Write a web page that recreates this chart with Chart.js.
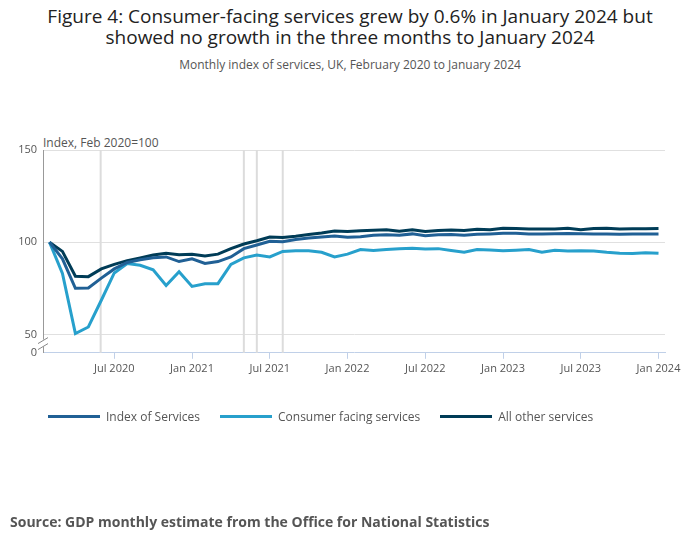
<!DOCTYPE html>
<html>
<head>
<meta charset="utf-8">
<script src="https://cdn.jsdelivr.net/npm/chart.js@4.4.1/dist/chart.umd.min.js"></script>
<style>
  body { margin: 0; width: 700px; height: 549px; position: relative; font-family: "Open Sans", sans-serif; background: #fff; overflow: hidden; }
  #title { position: absolute; top: 6px; left: 0; width: 700px; text-align: center; font-size: 19px; line-height: 21px; color: #222; }
  #subtitle { position: absolute; top: 56px; left: 0; width: 700px; text-align: center; font-size: 12px; color: #555; }
  #ytitle { position: absolute; top: 134px; left: 43px; font-size: 12px; color: #555; }
  #legend { position: absolute; top: 408px; left: 48px; font-size: 12px; color: #555; display: flex; }
  #legend span.item { display: flex; align-items: center; margin-right: 20px; }
  #legend span.sw { display: inline-block; width: 52px; height: 3px; margin-right: 6px; }
  #source { position: absolute; top: 512px; left: 10px; font-size: 14px; font-weight: bold; color: #555; }
  canvas { position: absolute; left: 0; top: 0; }
</style>
</head>
<body>
<div id="title">Figure 4: Consumer-facing services grew by 0.6% in January 2024 but<br>showed no growth in the three months to January 2024</div>
<div id="subtitle">Monthly index of services, UK, February 2020 to January 2024</div>
<div id="ytitle">Index, Feb 2020=100</div>
<canvas id="chart" width="700" height="549"></canvas>
<div id="legend"></div>
<div id="source">Source: GDP monthly estimate from the Office for National Statistics</div>
<script>
// months from Feb 2020 (index 0) to Jan 2024 (index 47)
const monthNames = ['Jan','Feb','Mar','Apr','May','Jun','Jul','Aug','Sep','Oct','Nov','Dec'];
const tickMonths = [5, 11, 17, 23, 29, 35, 41, 47];
const markerMonths = [3.95, 15, 16, 18];

const indexOfServices = [100, 91, 75, 75.2, 80.5, 85.5, 89, 90.5, 91.5, 92, 89.5,
  91, 88.5, 89.5, 92, 96.5, 98.5, 100.5, 100.3, 101.5, 102.3, 102.8, 103.3,
  102.7, 103, 103.8, 104, 103.8, 104.5, 103.5, 104, 104.2, 103.8, 104.3, 104.5,
  104.8, 104.8, 104.5, 104.5, 104.6, 104.7, 104.6, 104.5, 104.5, 104.3, 104.4, 104.4,
  104.5];
const consumerFacing = [100, 83, 50.4, 54, 68.5, 83.3, 88.4, 87.5, 85, 76.5, 84,
  76, 77.5, 77.5, 88, 91.5, 93, 92, 95, 95.3, 95.3, 94.5, 92,
  93.5, 96, 95.5, 96, 96.5, 96.7, 96.3, 96.5, 95.5, 94.6, 96, 95.8,
  95.3, 95.6, 96, 94.5, 95.6, 95.2, 95.4, 95.2, 94.5, 94, 93.8, 94.3,
  93.7, 94];
const allOther = [100, 95, 81.5, 81.3, 85.5, 88, 90, 91.5, 93, 94, 93.2,
  93.5, 92.5, 93.5, 96.5, 99, 100.8, 102.8, 102.5, 103.2, 104.2, 105, 106,
  105.8, 106.2, 106.5, 106.8, 106, 106.8, 105.8, 106.3, 106.6, 106.3, 107, 106.7,
  107.6, 107.4, 107.2, 107.2, 107.2, 107.5, 106.8, 107.4, 107.5, 107.2, 107.3, 107.3,
  107.4];
consumerFacing.splice(47); consumerFacing.push(94);

const seriesNames = ['Index of Services', 'Consumer facing services', 'All other services'];
const seriesColors = ['#206095', '#27a0cc', '#003c57'];
const seriesData = [indexOfServices, consumerFacing, allOther];

function monthLabel(i) {
  const m = (1 + i) % 12;
  const y = 2020 + Math.floor((1 + i) / 12);
  return monthNames[m] + ' ' + y;
}

const markers = {
  id: 'markers',
  beforeDatasetsDraw(chart) {
    const { ctx, chartArea, scales } = chart;
    ctx.save();
    ctx.strokeStyle = '#dcdcdc';
    ctx.lineWidth = 2;
    markerMonths.forEach(m => {
      const x = scales.x.getPixelForValue(m);
      ctx.beginPath();
      ctx.moveTo(x, chartArea.top);
      ctx.lineTo(x, chartArea.bottom);
      ctx.stroke();
    });
    // axis break marks
    const x0 = chartArea.left;
    const yb = scales.y.getPixelForValue(45);
    ctx.fillStyle = '#fff';
    ctx.fillRect(x0 - 6, yb - 4, 12, 7);
    ctx.strokeStyle = '#888';
    ctx.lineWidth = 1;
    [-3, 3].forEach(d => {
      ctx.beginPath();
      ctx.moveTo(x0 - 5, yb + d + 3);
      ctx.lineTo(x0 + 5, yb + d - 3);
      ctx.stroke();
    });
    ctx.restore();
  }
};

new Chart(document.getElementById('chart'), {
  type: 'line',
  data: {
    datasets: seriesData.map((d, i) => ({
      label: seriesNames[i],
      data: d.map((v, j) => ({ x: j, y: v })),
      borderColor: seriesColors[i],
      borderWidth: 3,
      pointRadius: 0,
      tension: 0
    }))
  },
  options: {
    responsive: false,
    animation: false,
    layout: { padding: { top: 150, left: 0, right: 35, bottom: 171 } },
    plugins: { legend: { display: false }, tooltip: { enabled: false } },
    scales: {
      x: {
        type: 'linear',
        min: -0.5,
        max: 47.5,
        afterBuildTicks: s => { s.ticks = tickMonths.map(v => ({ value: v })); },
        ticks: { callback: v => monthLabel(v), color: '#555', font: { family: 'Open Sans', size: 11 }, maxRotation: 0, autoSkip: false },
        grid: { drawOnChartArea: false, color: '#c0d0e8', tickLength: 6 },
        border: { color: '#c0d0e8' }
      },
      y: {
        min: 40,
        max: 150,
        afterFit: s => { s.width = 43; },
        afterBuildTicks: s => { s.ticks = [40, 50, 100, 150].map(v => ({ value: v })); },
        ticks: { callback: v => v === 40 ? '0' : v, color: '#555', font: { family: 'Open Sans', size: 11 }, padding: 6 },
        grid: { color: c => c.tick && c.tick.value === 40 ? 'rgba(0,0,0,0)' : '#e0e0e0', drawTicks: false },
        border: { color: '#999' }
      }
    }
  },
  plugins: [markers]
});

const legend = document.getElementById('legend');
seriesNames.forEach((n, i) => {
  legend.insertAdjacentHTML('beforeend',
    '<span class="item"><span class="sw" style="background:' + seriesColors[i] + '"></span>' + n + '</span>');
});
</script>
</body>
</html>
